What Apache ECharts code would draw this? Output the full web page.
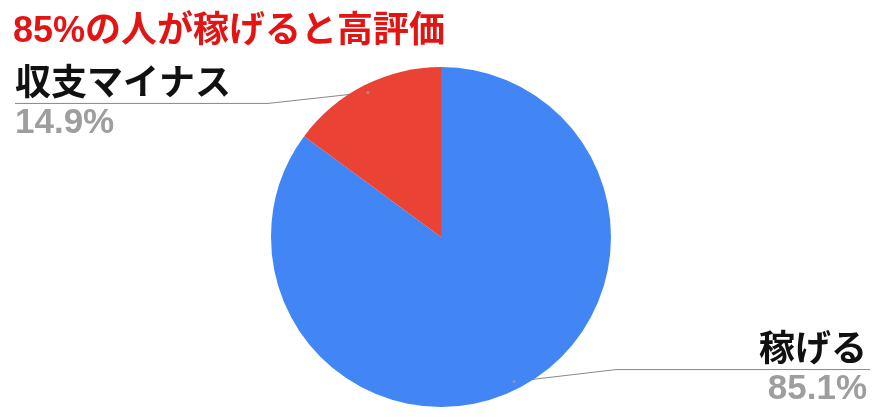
<!DOCTYPE html>
<html>
<head>
<meta charset="utf-8">
<script src="https://cdn.jsdelivr.net/npm/echarts@6/dist/echarts.min.js"></script>
<style>
html,body{margin:0;padding:0;background:#fff;}
#chart{width:882px;height:417px;}
</style>
</head>
<body>
<div id="chart"></div>
<script>
const titleText = '85%の人が稼げると高評価';
const categories = ['稼げる', '収支マイナス'];
const values = [85.1, 14.9];
const sliceColors = ['#4285F4', '#EA4335'];

const FONT = "'Liberation Sans', Arial, 'Noto Sans CJK JP', sans-serif";
const CX = 441, CY = 237, R = 170, DOT_R = 162;

const total = values.reduce((a, b) => a + b, 0);
let acc = 0;
const midAngles = values.map(v => { const m = (acc + v / 2) / total * 360; acc += v; return m; });

const chart = echarts.init(document.getElementById('chart'), null, {renderer: 'canvas'});
chart.setOption({
  backgroundColor: '#fff',
  animation: false,
  title: {
    text: titleText,
    left: 13,
    top: 14,
    padding: 0,
    textStyle: {color: '#E31414', fontSize: 36, fontWeight: 'bold', fontFamily: FONT}
  },
  polar: {center: [CX, CY], radius: R},
  angleAxis: {type: 'value', min: 0, max: 360, startAngle: 90, clockwise: true, show: false},
  radiusAxis: {type: 'value', min: 0, max: R, show: false},
  series: [
    {
      type: 'pie',
      center: [CX, CY],
      radius: R,
      startAngle: 90,
      clockwise: true,
      z: 2,
      data: categories.map((c, i) => ({name: c, value: values[i], itemStyle: {color: sliceColors[i]}})),
      itemStyle: {borderWidth: 0},
      label: {
        show: true,
        position: 'outside',
        alignTo: 'edge',
        edgeDistance: 15,
        formatter: p => '{n|' + p.name + '}\n{v|' + p.value.toFixed(1) + '%}',
        rich: {
          n: {fontSize: 36, fontWeight: 'bold', color: '#111', fontFamily: FONT, lineHeight: 40},
          v: {fontSize: 35, fontWeight: 'bold', color: '#9E9E9E', fontFamily: FONT, lineHeight: 36}
        }
      },
      labelLine: {show: true, length: 0, length2: 10, lineStyle: {color: '#888', width: 1}},
      labelLayout: function (params) {
        const pts = params.labelLinePoints;
        if (!pts) return {};
        const p = pts[0];
        const k = DOT_R / R;
        const x0 = CX + (p[0] - CX) * k;
        const y0 = CY + (p[1] - CY) * k;
        const isLeft = x0 < CX;
        const lineY = y0 + (y0 < CY ? 11 : -12);
        const x1 = x0 + (isLeft ? -100 : 102);
        const rect = params.labelRect;
        const x2 = isLeft ? rect.x : rect.x + rect.width + 3;
        return {
          y: lineY,
          verticalAlign: 'middle',
          labelLinePoints: [[x0, y0], [x1, lineY], [x2, lineY]]
        };
      }
    },
    {
      type: 'scatter',
      coordinateSystem: 'polar',
      z: 5,
      symbolSize: 3,
      itemStyle: {color: '#9E9E9E'},
      data: midAngles.map(a => [DOT_R, a]),
      silent: true
    }
  ]
});
</script>
</body>
</html>
